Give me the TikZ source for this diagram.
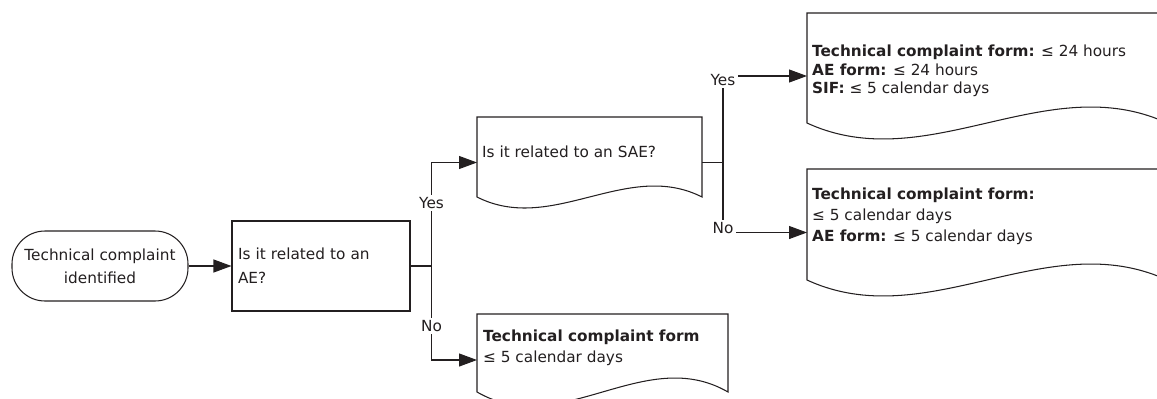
\documentclass[tikz,border=0pt]{standalone}
\usepackage{fontspec}
\setmainfont{DejaVu Sans}
\usetikzlibrary{arrows.meta,calc}
\definecolor{ink}{RGB}{35,31,32}
\newcommand\fsz[1]{\fontsize{15.3}{#1}\selectfont}
\newcommand\docoutline[2]{%
  \draw[line] ($(#1.south west)+(0,-#2)$)
    .. controls ($(#1.south west)!1/3!(#1.south east)+(0,{2.46*#2})$)
    and ($(#1.south west)!2/3!(#1.south east)+(0,{-4.46*#2})$)
    .. ($(#1.south east)+(0,-#2)$) -- (#1.north east) -- (#1.north west) -- cycle;}
\begin{document}
\begin{tikzpicture}[x=1pt,y=-1pt,
  line/.style={draw=ink, line width=1.05pt},
  arr/.style={line, -{Triangle[length=18pt,width=13pt]}},
  lbl/.style={fill=white, inner sep=2.5pt, text=ink, font=\fsz{18}},
  docbox/.style={rectangle, inner sep=0pt, outer sep=0pt},
  doctext/.style={inner sep=0pt, align=left, text=ink, anchor=west}]
\useasboundingbox (0,0) rectangle (1157,399);
\clip (0,0) rectangle (1157,399);

% start terminal
\node[line, rounded corners=33pt, minimum width=176pt, minimum height=70pt,
      align=center, text=ink, font=\fsz{23}] (term) at (100,266)
      {Technical complaint\\identified};

% decision box
\node[line, minimum width=178pt, minimum height=90pt, inner sep=6pt,
      text width=166pt, align=left, text=ink, font=\fsz{24}] (ae) at (321,266)
      {Is it related to an\\AE?};

% documents
\node[docbox, minimum width=225pt, minimum height=91pt, anchor=north west] (sae) at (477,117) {};
\docoutline{sae}{11}
\node[doctext, font=\fsz{18}] (saet) at (482,152) {Is it related to an SAE?};

\node[docbox, minimum width=251pt, minimum height=92pt, anchor=north west] (bot) at (477,314) {};
\docoutline{bot}{14}
\node[doctext, font=\fsz{21}] (bott) at (483,347.5)
  {\textbf{Technical complaint form}\\≤ 5 calendar days};

\node[docbox, minimum width=360pt, minimum height=126pt, anchor=north west] (r1) at (807,13) {};
\docoutline{r1}{16}
\node[doctext, font=\fsz{18.3}] (r1t) at (812,71)
  {\textbf{Technical complaint form:} ≤ 24 hours\\\textbf{AE form:} ≤ 24 hours\\\textbf{SIF:} ≤ 5 calendar days};

\node[docbox, minimum width=360pt, minimum height=127pt, anchor=north west] (r2) at (807,169) {};
\docoutline{r2}{16}
\node[doctext, font=\fsz{20.8}] (r2t) at (812,216.5)
  {\textbf{Technical complaint form:}\\≤ 5 calendar days\\\textbf{AE form:} ≤ 5 calendar days};

% connectors
\draw[arr] (term) -- (ae);
\coordinate (j1) at ($(ae.east)+(21,0)$);
\draw[line] (ae.east) -- (j1);
\draw[arr] (j1) |- node[lbl, pos=0.304] {Yes} (sae.west);
\draw[arr] (j1) |- node[lbl, pos=0.319] {No} (bot.west);

\coordinate (j2) at ($(sae.east)+(21,0)$);
\draw[line] (sae.east) -- (j2);
\draw[arr] (j2) |- node[lbl, pos=0.5, yshift=-4pt] {Yes} (r1.west);
\draw[arr] (j2) |- node[lbl, pos=0.5, yshift=4pt] {No} (r2.west);
\end{tikzpicture}
\end{document}
